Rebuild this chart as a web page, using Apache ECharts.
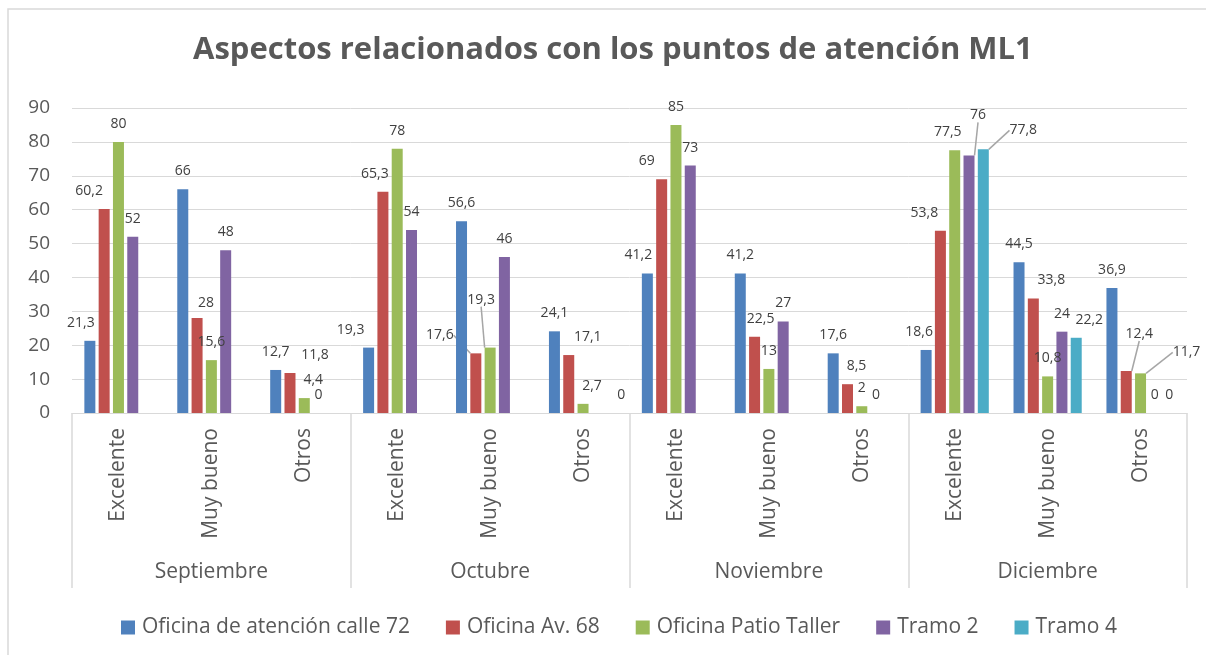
<!DOCTYPE html>
<html>
<head>
<meta charset="utf-8">
<script src="https://cdn.jsdelivr.net/npm/echarts@6/dist/echarts.min.js"></script>
<style>
  html, body { margin: 0; padding: 0; background: #fff; }
  #chart { width: 1206px; height: 655px; }
</style>
</head>
<body>
<div id="chart"></div>
<script>
// datos
const months = ["Septiembre", "Octubre", "Noviembre", "Diciembre"];
const grades = ["Excelente", "Muy bueno", "Otros"];
const seriesNames = ["Oficina de atención calle 72", "Oficina Av. 68", "Oficina Patio Taller", "Tramo 2", "Tramo 4"];
const calle72 = [21.3, 66, 12.7, 19.3, 56.6, 24.1, 41.2, 41.2, 17.6, 18.6, 44.5, 36.9];
const av68 = [60.2, 28, 11.8, 65.3, 17.6, 17.1, 69, 22.5, 8.5, 53.8, 33.8, 12.4];
const patioTaller = [80, 15.6, 4.4, 78, 19.3, 2.7, 85, 13, 2, 77.5, 10.8, 11.7];
const tramo2 = [52, 48, 0, 54, 46, 0, 73, 27, 0, 76, 24, 0];
const tramo4 = [null, null, null, null, null, null, null, null, null, 77.8, 22.2, 0];
const yMin = 0, yMax = 90, yStep = 10;

const colors = ["#4f81bd", "#c0504d", "#9bbb59", "#8064a2", "#4bacc6"];
const allValues = [calle72, av68, patioTaller, tramo2, tramo4];

// categorías del eje (12): mes x calificación
const categories = [];
months.forEach(() => grades.forEach(g => categories.push(g)));

// desplazamientos de etiquetas (serie -> {categoria: [dx, dy]}) como en Excel
const shifts = [
  { 0: [-9, 0], 3: [-18, 0], 6: [-9, 0], 9: [-7, 0] },
  { 0: [-15, 0], 1: [9, 3], 2: [25, 0], 3: [-8, 0], 4: [-36, 0], 5: [19, 0], 6: [-15, 0], 7: [6, 0], 8: [9, 0], 9: [-16, 0], 10: [18, 0], 11: [13, -19] },
  { 2: [9, 0], 4: [-9, -30], 5: [9, 0], 9: [-7, 0], 11: [46, -3] },
  { 5: [24, 0], 9: [9, -22] },
  { 9: [40, -1], 10: [13, 0] }
];
const leaders = { 1: [4, 11], 2: [4, 11], 3: [9], 4: [9] };

const fmt = v => String(v).replace(".", ",");

const myChart = echarts.init(document.getElementById("chart"));

const series = allValues.map((vals, s) => ({
  name: seriesNames[s],
  type: "bar",
  xAxisIndex: 0,
  barWidth: 11,
  barGap: "30%",
  itemStyle: { color: colors[s] },
  label: {
    show: true,
    position: "top",
    distance: 11,
    color: "#404040",
    fontSize: 14,
    fontFamily: "Open Sans",
    formatter: p => fmt(p.value)
  },
  labelLine: { show: false, lineStyle: { color: "#a6a6a6", width: 1.5 } },
  labelLayout: p => {
    const o = shifts[p.seriesIndex][p.dataIndex];
    return o ? { dx: o[0], dy: o[1] } : {};
  },
  data: vals.map((v, i) => {
    if ((leaders[s] || []).indexOf(i) >= 0) {
      return { value: v, labelLine: { show: true } };
    }
    return v;
  })
}));

const option = {
  animation: false,
  color: colors,
  textStyle: { fontFamily: "Open Sans" },
  title: {
    text: "Aspectos relacionados con los puntos de atención ML1",
    left: 188,
    top: 30,
    textStyle: { fontSize: 31, fontWeight: "bold", color: "#595959", fontFamily: "Open Sans" }
  },
  graphic: [{
    type: "rect",
    shape: { x: 8, y: 9, width: 1230, height: 680 },
    style: { fill: "none", stroke: "#d9d9d9", lineWidth: 1.5 }
  }],
  legend: {
    left: 116,
    top: 612,
    itemWidth: 14,
    itemHeight: 14,
    itemGap: 36,
    icon: "rect",
    textStyle: { fontSize: 21, color: "#595959", fontFamily: "Open Sans", padding: [0, 0, 0, 2] },
    data: seriesNames
  },
  grid: { left: 72, right: 19, top: 108, bottom: 242 },
  xAxis: [
    {
      type: "category",
      data: categories,
      axisLine: { lineStyle: { color: "#d9d9d9", width: 1 } },
      axisTick: { show: false },
      axisLabel: { rotate: 90, interval: 0, margin: 15, fontSize: 21, color: "#595959" }
    },
    {
      type: "category",
      data: months,
      position: "bottom",
      axisLine: { show: false },
      axisTick: { show: true, interval: 0, length: 175, lineStyle: { color: "#d9d9d9", width: 1.5 } },
      axisLabel: { interval: 0, margin: 149, fontSize: 21, color: "#595959" }
    }
  ],
  yAxis: {
    type: "value",
    min: yMin,
    max: yMax,
    interval: yStep,
    axisLine: { show: false },
    axisTick: { show: false },
    axisLabel: { fontSize: 19, color: "#595959", margin: 22 },
    splitLine: { lineStyle: { color: "#d9d9d9", width: 1 } }
  },
  series: series
};
option && myChart.setOption(option);
</script>
</body>
</html>
